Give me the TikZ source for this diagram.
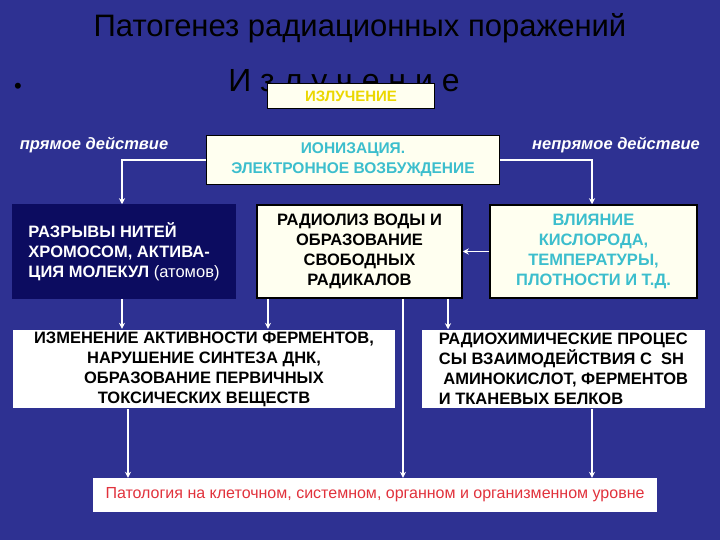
\documentclass[tikz,border=0pt]{standalone}
\usepackage{fontspec}
\setmainfont{Liberation Sans}
\usetikzlibrary{arrows.meta}
\definecolor{bg}{RGB}{46,49,146}
\definecolor{navy}{RGB}{12,12,96}
\definecolor{cyanT}{RGB}{60,190,205}
\definecolor{gold}{RGB}{235,215,0}
\definecolor{redT}{RGB}{225,50,60}
\definecolor{cream}{RGB}{255,255,240}
\begin{document}
\begin{tikzpicture}[x=1pt,y=-1pt,
  box/.style={draw=black,line width=1.5pt,fill=cream,inner sep=2pt,font=\bfseries\fontsize{16.5}{20}\selectfont},
  arr/.style={draw=white,line width=1.5pt,-{Stealth[length=6pt,width=6pt]}},
  lbl/.style={text=white,font=\itshape\bfseries\fontsize{16.5}{18}\selectfont}]
\fill[bg] (0,0) rectangle (720,540);
\useasboundingbox (0,0) rectangle (720,540);
\node (title) at (360,28) {\fontsize{31}{34}\selectfont Патогенез радиационных поражений};
\node (bul) at (18,88) {\fontsize{22}{24}\selectfont •};
\node (izl) at (344,84) {\fontsize{32}{34}\selectfont И з л у ч е н и е};
\node[box,fill=cream,minimum width=167pt,minimum height=25pt,text=gold,font=\bfseries\fontsize{15}{16}\selectfont] (rad) at (351,96) {ИЗЛУЧЕНИЕ};
\node[lbl] (pd) at (94,145) {прямое действие};
\node[lbl] (npd) at (616,145) {непрямое действие};
\node[box,minimum width=293pt,minimum height=49pt,text=cyanT,align=center,font=\bfseries\fontsize{15.5}{20}\selectfont] (ion) at (353,160) {ИОНИЗАЦИЯ.\\ЭЛЕКТРОННОЕ ВОЗБУЖДЕНИЕ};
\node[box,fill=navy,draw=navy,text=white,minimum width=222pt,minimum height=93pt,align=left] (b1) at (124,251.5) {РАЗРЫВЫ НИТЕЙ\\ХРОМОСОМ, АКТИВА-\\ЦИЯ МОЛЕКУЛ {\mdseries(атомов)}};
\node[box,minimum width=205pt,minimum height=93pt,align=center] (b2) at (359.5,251.5) {РАДИОЛИЗ ВОДЫ И\\ОБРАЗОВАНИЕ\\СВОБОДНЫХ\\РАДИКАЛОВ};
\node[box,minimum width=207pt,minimum height=93pt,align=center,text=cyanT] (b3) at (593.5,251.5) {ВЛИЯНИЕ\\КИСЛОРОДА,\\ТЕМПЕРАТУРЫ,\\ПЛОТНОСТИ И Т.Д.};
\node[box,draw=none,fill=white,minimum width=382pt,minimum height=78pt,align=center] (b4) at (204,369) {ИЗМЕНЕНИЕ АКТИВНОСТИ ФЕРМЕНТОВ,\\НАРУШЕНИЕ СИНТЕЗА ДНК,\\ОБРАЗОВАНИЕ ПЕРВИЧНЫХ\\ТОКСИЧЕСКИХ ВЕЩЕСТВ};
\node[box,draw=none,fill=white,minimum width=283pt,minimum height=78pt,align=left] (b5) at (563.5,369) {РАДИОХИМИЧЕСКИЕ ПРОЦЕС\\СЫ ВЗАИМОДЕЙСТВИЯ С \ SH\\\ АМИНОКИСЛОТ, ФЕРМЕНТОВ\\И ТКАНЕВЫХ БЕЛКОВ};
\node[draw=none,fill=white,minimum width=564pt,minimum height=34pt,text=redT,font=\fontsize{16}{18}\selectfont] (b6) at (375,495) {Патология на клеточном, системном, органном и организменном уровне};
\draw[arr] (ion.west) -| (b1.north -| 122,0);
\draw[arr] (ion.east) -| (b3.north -| 592,0);
\draw[arr] (b3.west) -- (b2.east);
\draw[arr] (b1.south -| 122,0) -- (b4.north -| 122,0);
\draw[arr] (b2.south -| 268,0) -- (b4.north -| 268,0);
\draw[arr] (b2.south -| 448,0) -- (b5.north -| 448,0);
\draw[arr] (b2.south -| 403,0) -- (b6.north -| 403,0);
\draw[arr] (b4.south -| 128,0) -- (b6.north -| 128,0);
\draw[arr] (b5.south -| 592,0) -- (b6.north -| 592,0);
\end{tikzpicture}
\end{document}
